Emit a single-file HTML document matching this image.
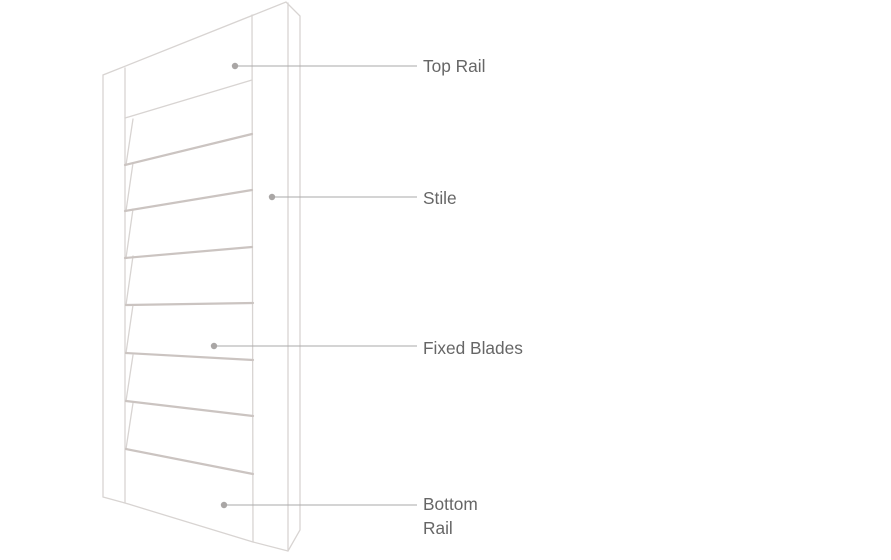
<!DOCTYPE html>
<html><head><meta charset="utf-8"><style>
html,body{margin:0;padding:0;background:#fff;}
svg{display:block}
text{font-family:"Liberation Sans",sans-serif;font-size:17.3px;fill:#666;}
</style></head><body>
<svg width="891" height="560" viewBox="0 0 891 560" xmlns="http://www.w3.org/2000/svg">
<g fill="none" stroke="#d8d4d2" stroke-width="1.3" stroke-linecap="round">
<polyline points="103,497 103,75 286,2 300,16 300,530 288,551 253,542 125,503 103,497"/>
<line x1="125" y1="68" x2="125" y2="503"/>
<line x1="252" y1="15" x2="253" y2="542"/>
<line x1="288" y1="3" x2="288" y2="551"/>
<line x1="125" y1="118" x2="252" y2="80"/>
<polyline points="133,119 126,165"/>
<polyline points="133,163 126,211"/>
<polyline points="133,209 126,258"/>
<polyline points="133,256 126,305"/>
<polyline points="133,305 126,353"/>
<polyline points="133,355 126,401"/>
<polyline points="133,403 126,449"/>
</g>
<g fill="none" stroke="#cbc4c1" stroke-width="2.2" stroke-linecap="round">
<line x1="125" y1="165" x2="252" y2="134"/>
<line x1="125" y1="211" x2="252" y2="190"/>
<line x1="125" y1="258" x2="252" y2="247"/>
<line x1="126" y1="305" x2="253" y2="303"/>
<line x1="126" y1="353" x2="253" y2="360"/>
<line x1="126" y1="401" x2="253" y2="416"/>
<line x1="126" y1="449" x2="253" y2="474"/>
</g>
<g stroke="#aaa" stroke-width="1">
<line x1="235" y1="66" x2="417" y2="66"/>
<line x1="272" y1="197" x2="417" y2="197"/>
<line x1="214" y1="346" x2="417" y2="346"/>
<line x1="224" y1="505" x2="417" y2="505"/>
</g>
<g fill="#a9a6a5">
<circle cx="235" cy="66" r="3.2"/>
<circle cx="272" cy="197" r="3.2"/>
<circle cx="214" cy="346" r="3.2"/>
<circle cx="224" cy="505" r="3.2"/>
</g>
<text x="423" y="72">Top Rail</text>
<text x="423" y="204">Stile</text>
<text x="423" y="354">Fixed Blades</text>
<text x="423" y="510">Bottom</text>
<text x="423" y="534">Rail</text>
</svg>
</body></html>
